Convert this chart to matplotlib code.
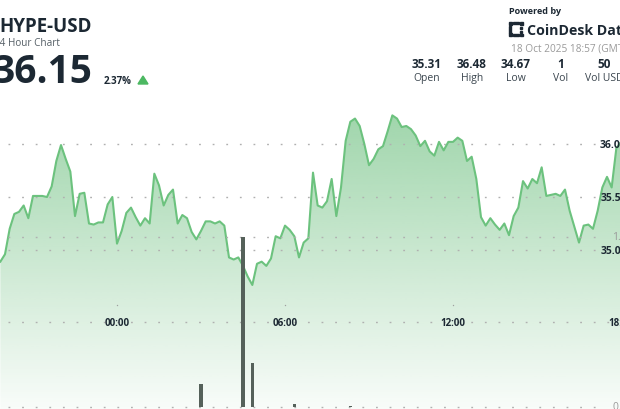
import numpy as np
import pandas as pd
import matplotlib
matplotlib.use("Agg")
import matplotlib.pyplot as plt
from matplotlib.transforms import blended_transform_factory
from matplotlib.patches import Rectangle, Polygon

plt.rcParams['font.family'] = ['Open Sans', 'DejaVu Sans']

# --- data (10 minute closes, HYPE-USD) ---
prices = [
    34.89, 34.96, 35.20, 35.34, 35.36, 35.42, 35.30, 35.51, 35.51, 35.51,
    35.50, 35.60, 35.84, 35.99, 35.86, 35.74, 35.32, 35.53, 35.54, 35.25,
    35.24, 35.26, 35.26, 35.43, 35.50, 35.06, 35.18, 35.35, 35.40, 35.31,
    35.23, 35.30, 35.25, 35.72, 35.61, 35.42, 35.52, 35.57, 35.25, 35.33,
    35.30, 35.17, 35.10, 35.18, 35.27, 35.27, 35.25, 35.27, 35.23, 34.93,
    34.91, 34.93, 34.85, 34.75, 34.67, 34.87, 34.89, 34.85, 34.92, 35.13,
    35.11, 35.23, 35.19, 35.13, 34.93, 35.07, 35.11,
    35.73, 35.42, 35.40, 35.46, 35.67, 35.32, 35.59, 36.03, 36.21, 36.24,
    36.17, 36.00, 35.80, 35.86, 35.95, 35.98, 36.12, 36.27, 36.24, 36.16,
    36.17, 36.14, 36.08, 35.98, 36.03, 35.93, 35.89, 36.02, 35.94, 36.02,
    36.02, 36.06, 36.03, 35.84, 35.88, 35.67, 35.31, 35.23, 35.30, 35.24,
    35.19, 35.25, 35.14, 35.32, 35.40, 35.65, 35.58, 35.67, 35.63, 35.78,
    35.51, 35.52, 35.53, 35.51, 35.57, 35.37, 35.22, 35.07, 35.23, 35.24,
    35.20, 35.37, 35.59, 35.69, 35.59, 35.96, 36.02, 36.15,
]
times = pd.date_range('2025-10-17 19:50', periods=len(prices), freq='10min')
hours = ((times - pd.Timestamp('2025-10-18 00:00')) / pd.Timedelta(hours=1)).values

vol_times = ['2025-10-18 03:00', '2025-10-18 04:30', '2025-10-18 04:50',
             '2025-10-18 06:20', '2025-10-18 08:20']
vol_values = [0.135, 1.0, 0.26, 0.015, 0.006]
vol_hours = [(pd.Timestamp(t) - pd.Timestamp('2025-10-18 00:00')) / pd.Timedelta(hours=1)
             for t in vol_times]

price_ticks = [36.0, 35.5, 35.0]
price_labels = ['36.00', '35.50', '35.00']
vol_ticks = [1.0, 0.0]
vol_labels = ['1.0', '0.0']
time_ticks = [0, 6, 12, 18]
time_labels = ['00:00', '06:00', '12:00', '18:00']

stats_values = ['35.31', '36.48', '34.67', '1', '50']
stats_names = ['Open', 'High', 'Low', 'Vol', 'Vol USD']

# --- figure ---
W, H = 620, 410
fig = plt.figure(figsize=(6.2, 4.1), dpi=100, facecolor='white')
ax = fig.add_axes([0, 0, 1, 1])
ax.set_xlim(-117 / 28, 503 / 28)
ax.set_ylim(36 - 265 / 106, 36 + 145 / 106)
ax.axis('off')

ax2 = ax.twinx()
ax2.set_ylim(-2 / 170, 408 / 170)
ax2.axis('off')

def fx(x):
    return x / W

def fy(y):
    return 1 - y / H

green = '#6cc27e'
dark = '#1c2833'
dots = dict(color='#b0b0b0', linewidth=1.0, linestyle=(0, (1.3, 8.5)))

# gradient fill under the price line
ybot = ax.get_ylim()[0]
poly = ax.fill_between(hours, prices, ybot, color='none', zorder=1)
grad = np.linspace(0.58, 0.04, 256).reshape(-1, 1)
rgba = np.zeros((256, 1, 4))
rgba[..., 0] = 0x5c / 255
rgba[..., 1] = 0xb8 / 255
rgba[..., 2] = 0x70 / 255
rgba[..., 3] = grad
im = ax.imshow(rgba, extent=[hours[0], hours[-1], ybot, max(prices)],
               aspect='auto', origin='upper', zorder=1)
im.set_clip_path(poly.get_paths()[0], transform=ax.transData)

ax.plot(hours, prices, color=green, linewidth=1.5, zorder=4, solid_joinstyle='round')

# dotted grid
for p in price_ticks:
    ax.axhline(p, xmin=fx(8), xmax=fx(596), zorder=3, **dots)
for v in vol_ticks:
    ax2.axhline(v, xmin=fx(8), xmax=fx(606), zorder=3, **dots)
ax.axhline(36 - (323 - 145) / 106, xmin=fx(8), xmax=1, zorder=3, **dots)

# volume bars
ax2.bar(vol_hours, vol_values, width=0.11, color='#55615a', zorder=5)

# axis labels
tr_x = blended_transform_factory(ax.transData, ax.transAxes)
for t, lab in zip(time_ticks, time_labels):
    ax.text(t, fy(323), lab, transform=tr_x, ha='center', va='center',
            fontsize=7, fontweight='bold', color=dark, zorder=6)
    ax.plot([t], [fy(306)], transform=tr_x, marker='o', markersize=1.0,
            markeredgewidth=0, color='#a0a0a0', zorder=6)
tr_y = blended_transform_factory(ax.transAxes, ax.transData)
for p, lab in zip(price_ticks, price_labels):
    ax.text(fx(627), p, lab, transform=tr_y, ha='right', va='center',
            fontsize=7.5, fontweight='bold', color=dark, zorder=6)
tr_y2 = blended_transform_factory(ax2.transAxes, ax2.transData)
for v, lab in zip(vol_ticks, vol_labels):
    ax2.text(fx(627), v, lab, transform=tr_y2, ha='right', va='center',
             fontsize=7.5, color='#9a9a9a', zorder=6)

# header left
fig.text(fx(-1), fy(27), 'HYPE-USD', fontsize=13.5, fontweight='bold',
         color=dark, va='center', ha='left')
fig.text(fx(-6), fy(43), '24 Hour Chart', fontsize=7.2, color='#555f66',
         va='center', ha='left')
fig.text(fx(-7), fy(83), '36.15', fontsize=28, fontweight='bold',
         color=dark, va='baseline', ha='left')
fig.text(fx(104), fy(84), '2.37%', fontsize=7, fontweight='bold',
         color=dark, va='baseline', ha='left')
fig.add_artist(Polygon([[fx(138), fy(85)], [fx(148), fy(85)], [fx(143), fy(77)]],
                       closed=True, color='#4cb862', transform=fig.transFigure))

# header right
fig.text(fx(509), fy(12), 'Powered by', fontsize=6.5, fontweight='bold',
         color=dark, va='center', ha='left')
for (x0, y0, w, h) in [(509, 23, 3, 3), (509, 27, 2, 7), (509, 34, 3, 3),
                       (513, 23, 6, 2), (513, 35, 6, 2), (520, 23, 3, 3),
                       (520, 28, 2, 2), (520, 32, 2, 2), (520, 35, 3, 2)]:
    fig.add_artist(Rectangle((fx(x0), fy(y0 + h)), w / W, h / H,
                             color=dark, transform=fig.transFigure))
fig.text(fx(527), fy(31), 'CoinDesk Data', fontsize=10.2, fontweight='bold',
         color=dark, va='center', ha='left')
fig.text(fx(511), fy(49), '18 Oct 2025 18:57 (GMT)', fontsize=7.3,
         color='#9a9a9a', va='center', ha='left')

stat_x = [427, 472, 516, 561, 604]
for x, v, n in zip(stat_x, stats_values, stats_names):
    fig.text(fx(x), fy(64), v, fontsize=8.5, fontweight='bold', color=dark,
             va='center', ha='center')
    fig.text(fx(x), fy(79), n, fontsize=7.5, color='#3a454e',
             va='center', ha='center')

fig.savefig('out.png', dpi=100, facecolor='white')
